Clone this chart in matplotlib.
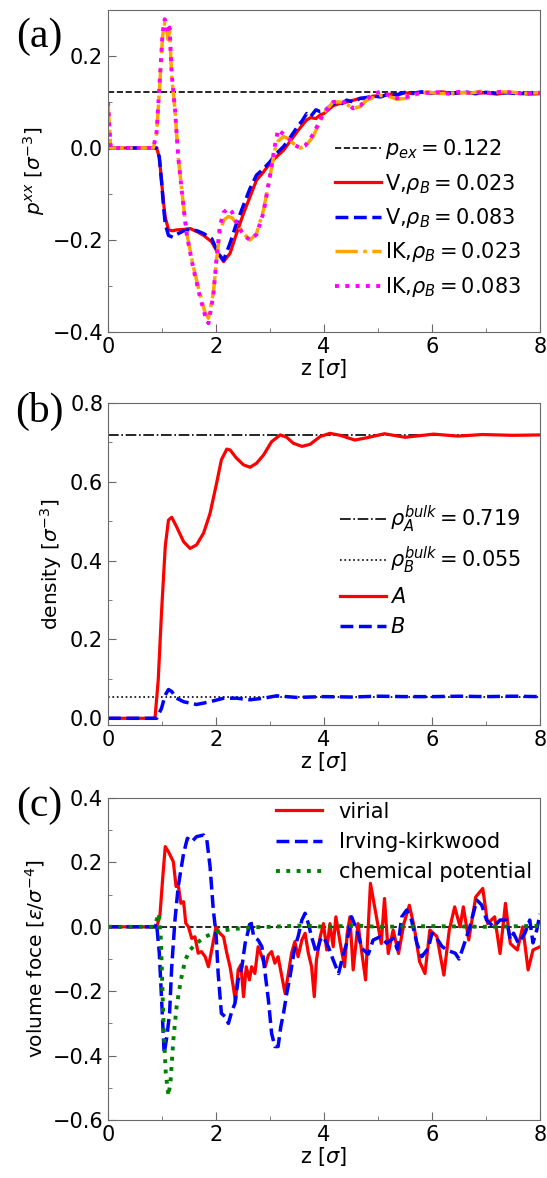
import numpy as np
import matplotlib
matplotlib.use('Agg')
import matplotlib.pyplot as plt
from matplotlib.ticker import MultipleLocator, AutoMinorLocator

plt.rcParams['font.family'] = ['DejaVu Sans']
plt.rcParams['mathtext.fontset'] = 'dejavusans'

# ---------------- panel (a): pressure p^xx ----------------
p_ex = 0.122
z_v = [0, 0.5, 0.90, 0.95, 0.99, 1.03, 1.06, 1.12, 1.2, 1.27, 1.4, 1.52, 1.65, 1.77, 1.92,
       2.04, 2.14, 2.26, 2.38, 2.51, 2.63, 2.75, 2.88, 3.0, 3.12, 3.25, 3.37, 3.5, 3.6, 3.68,
       3.75, 3.85, 3.93, 4.0, 4.1, 4.17, 4.3, 4.42, 4.55, 4.67, 4.8, 4.91, 5.05, 5.2, 5.35,
       5.5, 5.65, 5.8, 6.0, 6.2, 6.4, 6.6, 6.8, 7.0, 7.2, 7.4, 7.6, 7.8, 8.0]
p_v_023 = [0, 0, 0, -0.02, -0.07, -0.12, -0.15, -0.178, -0.18, -0.178, -0.177, -0.175, -0.182,
           -0.19, -0.204, -0.229, -0.247, -0.229, -0.186, -0.142, -0.106, -0.07, -0.052, -0.033,
           -0.019, -0.005, 0.014, 0.035, 0.05, 0.061, 0.066, 0.064, 0.072, 0.075, 0.085, 0.092,
           0.097, 0.1, 0.104, 0.108, 0.106, 0.113, 0.112, 0.117, 0.115, 0.12, 0.118, 0.121, 0.119,
           0.122, 0.118, 0.121, 0.119, 0.12, 0.117, 0.121, 0.119, 0.117, 0.118]
p_v_083 = [0, 0, 0, -0.02, -0.07, -0.13, -0.165, -0.19, -0.194, -0.188, -0.18, -0.177, -0.18,
           -0.186, -0.197, -0.229, -0.244, -0.207, -0.164, -0.124, -0.088, -0.059, -0.045, -0.03,
           -0.012, 0.003, 0.022, 0.045, 0.06, 0.075, 0.068, 0.083, 0.079, 0.08, 0.09, 0.097,
           0.094, 0.104, 0.1, 0.108, 0.11, 0.113, 0.111, 0.118, 0.116, 0.121, 0.119, 0.122, 0.12,
           0.121, 0.119, 0.122, 0.118, 0.121, 0.119, 0.12, 0.118, 0.12, 0.119]
z_ik = [0, 0.05, 0.5, 0.84, 0.90, 0.96, 1.01, 1.05, 1.08, 1.11, 1.14, 1.18, 1.24, 1.30, 1.40,
        1.46, 1.58, 1.70, 1.80, 1.86, 1.95, 2.01, 2.07, 2.14, 2.23, 2.30, 2.38, 2.51, 2.63, 2.75,
        2.88, 3.0, 3.09, 3.15, 3.25, 3.35, 3.43, 3.56, 3.65, 3.80, 3.99, 4.17, 4.3, 4.42, 4.54,
        4.67, 4.79, 4.92, 5.04, 5.2, 5.35, 5.53, 5.7, 5.9, 6.1, 6.3, 6.5, 6.7, 6.9, 7.1, 7.3,
        7.5, 7.7, 7.9, 8.0]
p_ik_023 = [0.1, 0, 0, 0, 0.032, 0.14, 0.242, 0.272, 0.262, 0.236, 0.255, 0.155, 0.083, -0.019,
            -0.128, -0.186, -0.258, -0.316, -0.359, -0.37, -0.316, -0.243, -0.186, -0.157, -0.149,
            -0.152, -0.164, -0.186, -0.2, -0.186, -0.135, -0.062, -0.004, 0.015, 0.025, 0.02, 0.01,
            0.0, 0.003, 0.025, 0.075, 0.1, 0.1, 0.095, 0.086, 0.09, 0.104, 0.11, 0.114, 0.112,
            0.106, 0.108, 0.116, 0.122, 0.119, 0.118, 0.121, 0.119, 0.123, 0.12, 0.122, 0.121,
            0.119, 0.12, 0.12]
p_ik_083 = [0.1, 0, 0, 0, 0.035, 0.15, 0.25, 0.28, 0.27, 0.25, 0.262, 0.16, 0.085, -0.02, -0.13,
            -0.19, -0.262, -0.322, -0.365, -0.381, -0.32, -0.24, -0.17, -0.14, -0.131, -0.14,
            -0.162, -0.19, -0.2, -0.188, -0.14, -0.06, 0.005, 0.04, 0.03, 0.02, 0.008, 0.0, 0.005,
            0.03, 0.075, 0.1, 0.102, 0.098, 0.086, 0.092, 0.106, 0.118, 0.122, 0.115, 0.108, 0.111,
            0.118, 0.12, 0.121, 0.118, 0.122, 0.12, 0.121, 0.119, 0.123, 0.12, 0.118, 0.121, 0.12]

# ---------------- panel (b): density ----------------
rho_A_bulk = 0.719
rho_B_bulk = 0.055
z_A = [0, 0.5, 0.87, 0.93, 0.99, 1.06, 1.12, 1.18, 1.27, 1.40, 1.52, 1.64, 1.77, 1.89, 2.01,
       2.10, 2.20, 2.26, 2.38, 2.51, 2.63, 2.75, 2.88, 3.03, 3.19, 3.31, 3.43, 3.59, 3.74, 3.93,
       4.11, 4.3, 4.57, 4.8, 5.12, 5.5, 6.03, 6.48, 6.93, 7.5, 8.0]
rho_A = [0, 0, 0, 0.097, 0.266, 0.436, 0.503, 0.51, 0.486, 0.448, 0.431, 0.44, 0.47, 0.52, 0.596,
         0.656, 0.683, 0.681, 0.66, 0.643, 0.637, 0.647, 0.668, 0.702, 0.719, 0.713, 0.698, 0.69,
         0.695, 0.715, 0.723, 0.718, 0.706, 0.712, 0.722, 0.713, 0.721, 0.716, 0.72, 0.718, 0.719]
z_B = [0, 0.5, 0.90, 0.99, 1.06, 1.12, 1.18, 1.27, 1.40, 1.64, 1.89, 2.14, 2.38, 2.63, 2.88,
       3.12, 3.49, 3.99, 4.5, 5, 5.5, 6, 6.5, 7, 7.5, 8]
rho_B = [0, 0, 0, 0.025, 0.059, 0.073, 0.068, 0.051, 0.042, 0.035, 0.042, 0.051, 0.051, 0.047,
         0.051, 0.057, 0.053, 0.055, 0.054, 0.056, 0.055, 0.055, 0.056, 0.055, 0.056, 0.055]

# ---------------- panel (c): volume force ----------------
f_virial = [(0, 0), (0.5, 0), (0.90, 0), (0.96, 0.031), (1.01, 0.145), (1.06, 0.249), (1.12, 0.233),
            (1.21, 0.202), (1.26, 0.125), (1.30, 0.13), (1.35, 0.073), (1.40, 0.078), (1.44, 0.011),
            (1.49, 0.0), (1.55, -0.036), (1.61, -0.031), (1.67, -0.082), (1.73, -0.077),
            (1.80, -0.093), (1.86, -0.124), (1.92, -0.072), (2.0, 0.0), (2.07, -0.02), (2.14, -0.031),
            (2.20, -0.082), (2.26, -0.124), (2.32, -0.186), (2.36, -0.232), (2.41, -0.134),
            (2.46, -0.118), (2.51, -0.217), (2.56, -0.124), (2.62, -0.165), (2.66, -0.124),
            (2.72, -0.145), (2.78, -0.062), (2.85, -0.093), (2.91, -0.124), (2.97, -0.088),
            (3.03, -0.077), (3.09, -0.113), (3.15, -0.093), (3.22, -0.155), (3.28, -0.207),
            (3.34, -0.145), (3.40, -0.082), (3.46, -0.046), (3.52, -0.093), (3.59, -0.041),
            (3.65, -0.02), (3.71, -0.082), (3.77, -0.124), (3.82, -0.217), (3.86, -0.103),
            (3.93, -0.031), (3.99, 0.01), (4.05, -0.072), (4.11, 0.01), (4.17, -0.062), (4.22, 0.031),
            (4.30, -0.05), (4.38, -0.124), (4.43, -0.02), (4.48, 0.031), (4.54, -0.134), (4.63, 0.01),
            (4.70, -0.08), (4.77, -0.165), (4.86, 0.135), (4.96, 0.041), (5.06, -0.052), (5.12, 0.088),
            (5.19, -0.083), (5.28, -0.01), (5.38, -0.083), (5.48, 0.01), (5.58, 0.067), (5.67, 0.0),
            (5.77, -0.108), (5.87, -0.145), (5.96, -0.01), (6.09, -0.03), (6.22, -0.15), (6.32, -0.01),
            (6.42, 0.062), (6.52, 0.0), (6.58, 0.062), (6.68, -0.041), (6.81, 0.093), (6.94, 0.119),
            (7.03, 0.01), (7.16, 0.031), (7.26, -0.083), (7.36, 0.073), (7.45, -0.052), (7.58, -0.072),
            (7.68, 0.0), (7.78, -0.134), (7.87, -0.072), (8.0, -0.062)]
f_ik = [(0, 0), (0.5, 0), (0.87, 0.0), (0.90, 0.01), (0.95, -0.082), (0.99, -0.217), (1.04, -0.393),
        (1.09, -0.341), (1.14, -0.269), (1.18, -0.124), (1.24, 0.021), (1.30, 0.125), (1.40, 0.228),
        (1.47, 0.275), (1.55, 0.264), (1.64, 0.28), (1.77, 0.285), (1.83, 0.27), (1.89, 0.187),
        (1.95, 0.052), (2.0, -0.02), (2.04, -0.145), (2.10, -0.269), (2.17, -0.279), (2.23, -0.3),
        (2.29, -0.264), (2.35, -0.238), (2.41, -0.165), (2.48, -0.124), (2.54, -0.051), (2.60, -0.01),
        (2.64, 0.021), (2.70, -0.031), (2.78, -0.041), (2.85, -0.062), (2.91, -0.145), (2.97, -0.227),
        (3.03, -0.331), (3.09, -0.372), (3.15, -0.372), (3.20, -0.31), (3.25, -0.269), (3.31, -0.207),
        (3.37, -0.155), (3.46, -0.062), (3.52, -0.031), (3.59, 0.021), (3.65, 0.042), (3.71, 0.01),
        (3.77, -0.031), (3.86, -0.082), (3.93, -0.041), (3.99, -0.031), (4.08, -0.062), (4.17, -0.103),
        (4.27, -0.145), (4.35, -0.09), (4.42, -0.051), (4.51, 0.031), (4.61, -0.01), (4.70, -0.067),
        (4.82, -0.085), (4.91, -0.041), (5.04, -0.031), (5.16, -0.051), (5.28, -0.036), (5.36, -0.07),
        (5.44, 0.031), (5.53, 0.052), (5.62, 0.021), (5.72, -0.051), (5.81, -0.093), (5.93, -0.067),
        (6.0, -0.02), (6.09, -0.036), (6.18, -0.06), (6.27, -0.072), (6.43, -0.082), (6.50, -0.1),
        (6.58, -0.062), (6.70, 0.0), (6.83, 0.083), (6.92, 0.068), (7.01, 0.021), (7.14, 0.0),
        (7.26, 0.021), (7.38, 0.021), (7.45, -0.04), (7.51, -0.02), (7.60, -0.051), (7.72, -0.02),
        (7.81, 0.021), (7.87, -0.05), (7.94, -0.01), (8.0, 0.04)]
f_chem = [(0, 0), (0.5, 0), (0.84, 0), (0.90, 0.021), (0.94, 0.042), (0.98, -0.041), (1.01, -0.207),
          (1.04, -0.352), (1.07, -0.455), (1.12, -0.525), (1.16, -0.476), (1.21, -0.352),
          (1.27, -0.248), (1.35, -0.165), (1.43, -0.103), (1.52, -0.072), (1.64, -0.051),
          (1.80, -0.031), (2.01, -0.015), (2.26, -0.008), (2.63, -0.002), (3.0, 0.0), (3.6, 0.004),
          (4.0, 0.0), (4.6, 0.004), (5.0, 0.0), (6.0, 0.002), (7.0, 0.0), (8.0, 0.003)]

W, H = 547, 1178
fig = plt.figure(figsize=(W / 100, H / 100), dpi=100)


def make_axes(top_px, bottom_px):
    ax = fig.add_axes([108 / W, 1 - bottom_px / H, 432 / W, (bottom_px - top_px) / H])
    for s in ax.spines.values():
        s.set_color('dimgray')
    ax.tick_params(which='both', direction='in', labelsize=15, colors='dimgray', labelcolor='black')
    ax.tick_params(which='major', length=6)
    ax.tick_params(which='minor', length=3)
    ax.set_xlim(0, 8)
    ax.xaxis.set_major_locator(MultipleLocator(2))
    ax.xaxis.set_minor_locator(AutoMinorLocator(2))
    ax.yaxis.set_major_locator(MultipleLocator(0.2))
    ax.yaxis.set_minor_locator(AutoMinorLocator(2))
    ax.set_xlabel(r'z [$\sigma$]', fontsize=15, labelpad=0)
    return ax


leg_kw = dict(frameon=False, fontsize=15, handlelength=2.2, labelspacing=0.5)

# (a)
ax1 = make_axes(10, 332)
ax1.axhline(p_ex, color='black', ls='--', lw=1.2, label=r'$p_{ex}=0.122$')
ax1.plot(z_v, p_v_023, color='red', lw=2.3, label=r'V,$\rho_B=0.023$')
ax1.plot(z_v, p_v_083, color='blue', ls='--', lw=2.5, label=r'V,$\rho_B=0.083$')
ax1.plot(z_ik, p_ik_023, color='orange', ls='-.', lw=2.5, label=r'IK,$\rho_B=0.023$')
ax1.plot(z_ik, p_ik_083, color='magenta', ls=':', lw=2.8, label=r'IK,$\rho_B=0.083$')
ax1.set_ylim(-0.4, 0.3)
ax1.set_ylabel(r'$p^{xx}$ [$\sigma^{-3}$]', fontsize=14.5)
ax1.legend(loc='center right', bbox_to_anchor=(1.0, 0.354), handletextpad=0.2, **leg_kw)

# (b)
ax2 = make_axes(403, 725)
ax2.axhline(rho_A_bulk, color='black', ls='-.', lw=1.2, label=r'$\rho_A^{bulk}=0.719$')
ax2.axhline(rho_B_bulk, color='black', ls=':', lw=1.2, label=r'$\rho_B^{bulk}=0.055$')
ax2.plot(z_A, rho_A, color='red', lw=2.3, label=r'$A$')
ax2.plot(z_B, rho_B, color='blue', ls='--', lw=2.5, label=r'$B$')
ax2.set_ylim(-0.017, 0.8)
ax2.set_ylabel(r'density [$\sigma^{-3}$]', fontsize=14.5)
ax2.legend(loc='center right', bbox_to_anchor=(1.0, 0.48), handletextpad=0.2, **leg_kw)

# (c)
ax3 = make_axes(798, 1120)
ax3.axhline(0, color='black', ls='--', lw=1.2)
zv, fv = np.array(f_virial).T
zi, fi = np.array(f_ik).T
zc, fc = np.array(f_chem).T
ax3.plot(zv, fv, color='red', lw=2.3, label='virial')
ax3.plot(zi, fi, color='blue', ls='--', lw=2.5, label='Irving-kirkwood')
ax3.plot(zc, fc, color='green', ls=':', lw=2.8, label='chemical potential')
ax3.set_ylim(-0.6, 0.4)
ax3.set_ylabel(r'volume foce [$\epsilon/\sigma^{-4}$]', fontsize=14.5)
ax3.legend(loc='upper right', bbox_to_anchor=(1.0, 1.015), borderaxespad=0, **leg_kw)

for lab, ypx in [('(a)', 37), ('(b)', 411), ('(c)', 806)]:
    fig.text(39 / W, 1 - ypx / H, lab, family='Liberation Serif', fontsize=30,
             ha='center', va='center')

fig.savefig('out.png', dpi=100)
